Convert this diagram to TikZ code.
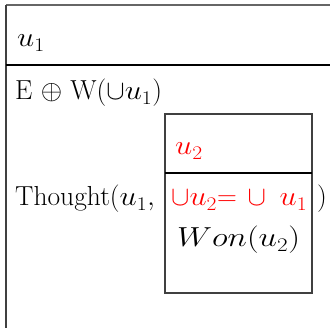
\RequirePackage{fix-cm}
\documentclass[tikz,border=0pt]{standalone}
\usepackage{amssymb}
\usepackage{graphicx}
\begin{document}
\begin{tikzpicture}[x=1pt,y=-1pt,
  txt/.style={anchor=base west,inner sep=0pt,font=\fontsize{27.5}{32}\selectfont},
  redtxt/.style={txt,text=red},
  frame/.style={line width=1.3pt,draw=black!75},
  divline/.style={line width=1.3pt,draw=black}]
\useasboundingbox (0,0) rectangle (330,328);
% outer box (open to right and bottom)
\coordinate (otl) at (6,5);
\coordinate (otr) at (331,5);
\coordinate (obl) at (6,329);
\coordinate (odl) at (6,65);
\coordinate (odr) at (331,65);
\draw[frame,draw=black!60] (otl) -- (otr);
\draw[frame] (otl) -- (obl);
\draw[divline] (odl) -- (odr);
% inner box
\coordinate (itl) at (165,114);
\coordinate (ibr) at (312,293);
\coordinate (idl) at (165,173);
\coordinate (idr) at (312,173);
\draw[frame] (itl) rectangle (ibr);
\draw[divline] (idl) -- (idr);
% texts
\node[txt] (u1) at (17,47) {\scalebox{1.12}[1]{$u_1$}};
\node[txt] (ew) at (15,100) {E $\oplus$ W$(\cup\scalebox{1.12}[1]{$u_1$})$};
\node[txt] (th) at (15,206) {Thought$(\scalebox{1.12}[1]{$u_1$},$};
\node[txt] (cl) at (317,206) {$)$};
\node[redtxt] (u2) at (175,155) {\scalebox{1.12}[1]{$u_2$}};
\node[redtxt] (eq) at (171,206) {$\cup\scalebox{1.12}[1]{$u_2$}{=}\,\cup\;\scalebox{1.12}[1]{$u_1$}$};
\node[txt] (won) at (177,247) {\scalebox{1.2}[1]{$Won(u_2)$}};
\end{tikzpicture}
\end{document}
